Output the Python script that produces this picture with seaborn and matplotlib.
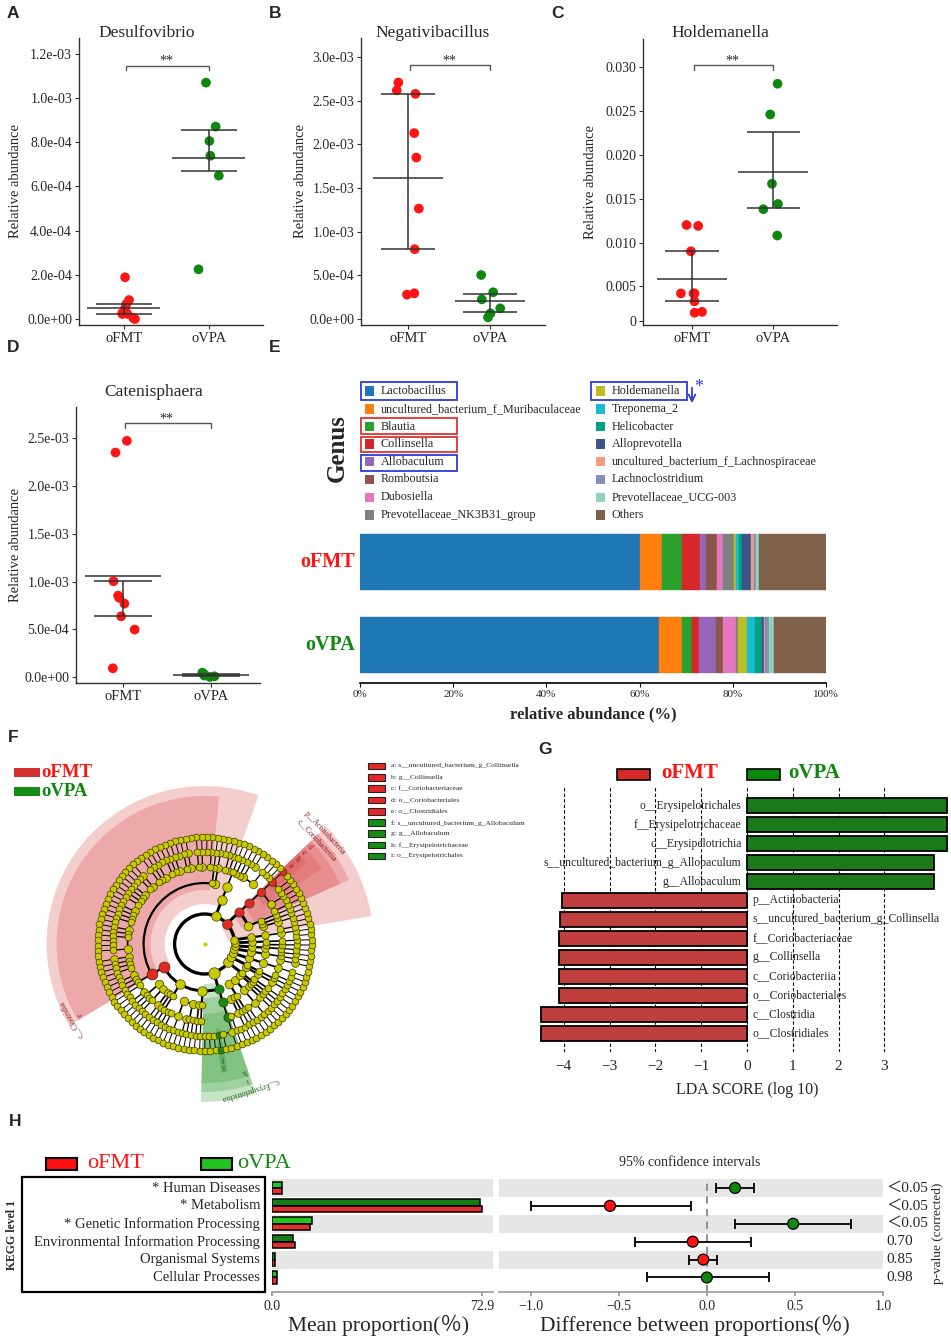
import numpy as np
import pandas as pd
import matplotlib
matplotlib.use("Agg")
import matplotlib.pyplot as plt
import seaborn as sns
from matplotlib.patches import Rectangle, Wedge, Arc

sns.set_theme(style="white")
plt.rcParams["font.family"] = ["Liberation Serif", "Noto Sans CJK SC", "DejaVu Sans"]
plt.rcParams["axes.unicode_minus"] = True
np.random.seed(0)

W, H = 951, 1339
RED, GREEN = "#ff1414", "#0f880f"
DARK = "#333333"

# ---------------- A-D: relative abundance of single genera ----------------
groups = ["oFMT", "oVPA"]
desulfo_fmt = [1.89e-4, 8.6e-5, 6.8e-5, 4.8e-5, 2.6e-5, 2.3e-5, 2.3e-5, 5e-6, 0.0]
desulfo_vpa = [1.070e-3, 8.71e-4, 8.06e-4, 7.39e-4, 6.49e-4, 2.25e-4]
negati_fmt = [2.71e-3, 2.62e-3, 2.58e-3, 2.13e-3, 1.85e-3, 1.265e-3, 8.0e-4, 2.79e-4, 2.94e-4]
negati_vpa = [5.04e-4, 3.06e-4, 2.25e-4, 1.22e-4, 6.5e-5, 1.9e-5]
holde_fmt = [0.0120, 0.0119, 0.0090, 0.0042, 0.0042, 0.0042, 0.0033, 0.0020, 0.0021]
holde_vpa = [0.0281, 0.0246, 0.0167, 0.0144, 0.0138, 0.0108]
cateni_fmt = [2.476e-3, 2.353e-3, 1.004e-3, 8.53e-4, 8.3e-4, 7.69e-4, 6.36e-4, 4.97e-4, 9.1e-5]
cateni_vpa = [2.8e-5, 4.5e-5, 7e-6, 2.4e-5, 0.0, 1.5e-5]

# ---------------- E: genus composition ----------------
genus_names = ["Lactobacillus", "uncultured_bacterium_f_Muribaculaceae", "Blautia", "Collinsella",
               "Allobaculum", "Romboutsia", "Dubosiella", "Prevotellaceae_NK3B31_group",
               "Holdemanella", "Treponema_2", "Helicobacter", "Alloprevotella",
               "uncultured_bacterium_f_Lachnospiraceae", "Lachnoclostridium",
               "Prevotellaceae_UCG-003", "Others"]
genus_colors = ["#1f77b4", "#ff7f0e", "#2ca02c", "#d62728", "#9467bd", "#8c564b", "#e377c2",
                "#7f7f7f", "#bcbd22", "#17becf", "#00a087", "#3c5488", "#f39b7f", "#8491b4",
                "#91d1c2", "#7e6148"]
genus_fmt = [60.1, 4.7, 4.3, 3.8, 1.3, 2.5, 1.1, 2.4, 0.4, 0.7, 0.7, 1.8, 0.8, 0.4, 0.6, 14.4]
genus_vpa = [64.2, 5.0, 2.0, 1.5, 3.6, 1.6, 2.8, 0.5, 1.9, 1.7, 1.5, 0.3, 0.3, 0.9, 1.0, 11.2]

# ---------------- F: LEfSe cladogram ----------------
# phylum -> class -> order -> family -> genus (int = number of species)
clado_tree = [
    [  # Firmicutes
        [  # Clostridia
            [[1], [1], [1, 1]],
            [[1]],
            [  # Clostridiales
                [1], [1, 1], [1], [2], [1], [1, 1], [1], [1], [1, 1], [1], [1], [2], [1],
                [1, 1], [1], [1], [1], [1, 1], [1], [1], [1], [1, 1], [1], [1], [1, 1, 1],
                [2], [1], [1], [1], [1, 1], [1], [1],
            ],
        ],
        [[[1], [1, 1], [1]], [[1], [1]], [[1, 1]], [[1]], [[1]]],          # Bacilli
        [[[1], [1], [1, 1]], [[1, 1], [1]], [[1], [1]], [[1]]],             # Negativicutes
        [[[1, 1, 1, 1, 1, 2]]],                                            # Erysipelotrichia
    ],
    [[[[1], [1, 1]], [[1]], [[1]]], [[[1], [1, 1]]], [[[1, 1]], [[1]]], [[[1]]]],  # Proteobacteria
    [[[[1]], [[1, 1]]], [[[1]]]],                                           # Tenericutes
    [[[[1], [1, 1]]]],                                                      # Spirochaetes
    [[[[2], [1]]]],                                                         # Epsilonbacteraeota
    [[[[1], [1]]]],                                                         # Deferribacteres
    [[[[1]], [[1]]]],                                                       # Cyanobacteria
    [[[[1, 1]]]],                                                           # Verrucomicrobia
    [[[[1], [1, 1]], [[1]], [[1]]], [[[1], [1, 1], [1, 1, 2]]]],            # Actinobacteria
    [[[[1, 1, 1], [2, 1], [1], [1], [1]]]],                                 # Bacteroidetes
]
clado_marks = {
    (8,): ("oFMT", "p__Actinobacteria"),
    (8, 1): ("oFMT", "c__Coriobacteriia"),
    (8, 1, 0): ("oFMT", "d"),
    (8, 1, 0, 2): ("oFMT", "c"),
    (8, 1, 0, 2, 2): ("oFMT", "b"),
    (8, 1, 0, 2, 2, 1): ("oFMT", "a"),
    (0, 0): ("oFMT", "c__Clostridia"),
    (0, 0, 2): ("oFMT", "e"),
    (0, 3): ("oVPA", "c__Erysipelotrichia"),
    (0, 3, 0): ("oVPA", "i"),
    (0, 3, 0, 0): ("oVPA", "h"),
    (0, 3, 0, 0, 3): ("oVPA", "g"),
    (0, 3, 0, 0, 3, 0): ("oVPA", "f"),
}
clado_key = ["a: s__uncultured_bacterium_g_Collinsella", "b: g__Collinsella", "c: f__Coriobacteriaceae",
             "d: o__Coriobacteriales", "e: o__Clostridiales", "f: s__uncultured_bacterium_g_Allobaculum",
             "g: g__Allobaculum", "h: f__Erysipelotrichaceae", "i: o__Erysipelotrichales"]
clado_key_group = ["oFMT"] * 5 + ["oVPA"] * 4

# ---------------- G: LDA scores ----------------
lda_taxa = ["o__Erysipelotrichales", "f__Erysipelotrichaceae", "c__Erysipelotrichia",
            "s__uncultured_bacterium_g_Allobaculum", "g__Allobaculum", "p__Actinobacteria",
            "s__uncultured_bacterium_g_Collinsella", "f__Coriobacteriaceae", "g__Collinsella",
            "c__Coriobacteriia", "o__Coriobacteriales", "c__Clostridia", "o__Clostridiales"]
lda_score = [4.37, 4.37, 4.37, 4.08, 4.08, -4.05, -4.08, -4.10, -4.10, -4.11, -4.11, -4.49, -4.49]
lda_group = ["oVPA"] * 5 + ["oFMT"] * 8

# ---------------- H: KEGG level 1 ----------------
kegg_cats = ["* Human Diseases", "* Metabolism", "* Genetic Information Processing",
             "Environmental Information Processing", "Organismal Systems", "Cellular Processes"]
kegg_fmt = [3.4, 72.9, 13.3, 7.9, 1.0, 1.7]
kegg_vpa = [3.4, 72.3, 13.8, 7.4, 1.0, 1.6]
kegg_diff = [0.16, -0.55, 0.49, -0.08, -0.02, 0.0]
kegg_lo = [0.05, -1.0, 0.16, -0.41, -0.10, -0.34]
kegg_hi = [0.27, -0.09, 0.82, 0.25, 0.06, 0.35]
kegg_p = ["＜0.05", "＜0.05", "＜0.05", "0.70", "0.85", "0.98"]

fig = plt.figure(figsize=(W / 100, H / 100), dpi=100)
fig.patch.set_facecolor("white")


def px_axes(l, t, r, b, **kw):
    return fig.add_axes([l / W, 1 - b / H, (r - l) / W, (b - t) / H], **kw)


ov = fig.add_axes([0, 0, 1, 1], zorder=10)
ov.set_xlim(0, W)
ov.set_ylim(H, 0)
ov.axis("off")
ov.patch.set_alpha(0)

# panel letters
for letter, (x, y) in zip("ABCDEFGH", [(13, 13), (275, 13), (557, 13), (13, 348), (275, 348),
                                        (13, 737), (545, 750), (15, 1122)]):
    ov.text(x, y, letter, fontsize=12.5, fontweight="bold", family="Liberation Sans",
            ha="center", va="center")


def abundance_panel(box, fmt_vals, vpa_vals, xlim, ylim, yticks, ylabels, bracket_y,
                    title, title_x, title_y, ylab_x):
    ax = px_axes(*box)
    df = pd.DataFrame({"group": ["oFMT"] * len(fmt_vals) + ["oVPA"] * len(vpa_vals),
                       "value": list(fmt_vals) + list(vpa_vals)})
    sns.stripplot(data=df, x="group", y="value", hue="group", order=groups,
                  palette={"oFMT": RED, "oVPA": GREEN}, jitter=0.14, size=7,
                  linewidth=0, ax=ax, legend=False, zorder=3)
    for i, vals in enumerate([fmt_vals, vpa_vals]):
        m = np.mean(vals)
        q1, q3 = np.percentile(vals, [25, 75])
        ax.hlines(m, i - 0.43, i + 0.43, color=DARK, lw=1.1, zorder=4)
        ax.hlines([q1, q3], i - 0.33, i + 0.33, color=DARK, lw=1.1, zorder=4)
        ax.vlines(i, q1, q3, color=DARK, lw=1.1, zorder=4)
    ax.set_xlim(*xlim)
    ax.set_ylim(*ylim)
    drop = 4.5 / (box[3] - box[1]) * (ylim[1] - ylim[0])
    ax.plot([0.03, 0.03, 1.0, 1.0], [bracket_y - drop, bracket_y, bracket_y, bracket_y - drop],
            color="#555555", lw=1.0)
    ax.annotate("**", xy=(0.5, bracket_y), xytext=(0, -1.5), textcoords="offset points",
                ha="center", va="bottom", fontsize=10)
    ax.set_yticks(yticks)
    ax.set_yticklabels(ylabels)
    ax.set_xlabel("")
    ax.set_ylabel("")
    for side in ["top", "right"]:
        ax.spines[side].set_visible(False)
    for side in ["left", "bottom"]:
        ax.spines[side].set_color(DARK)
        ax.spines[side].set_linewidth(1.0)
    ax.tick_params(axis="both", length=3, width=0.8, color=DARK, pad=2, left=True, bottom=True)
    ax.tick_params(axis="y", labelsize=10)
    ax.tick_params(axis="x", labelsize=10.5)
    ov.text(title_x, title_y, title, fontsize=12.5, ha="center", va="center")
    ov.text(ylab_x, (box[1] + box[3]) / 2, "Relative abundance", fontsize=10.5,
            rotation=90, ha="center", va="center")
    return ax


def sci_labels(vals):
    return [f"{v:.1e}" for v in vals]


ta = [0, 2e-4, 4e-4, 6e-4, 8e-4, 1e-3, 1.2e-3]
abundance_panel((79, 38, 263, 325), desulfo_fmt, desulfo_vpa, (-0.53, 1.64), (-2.7e-5, 1.272e-3),
                ta, sci_labels(ta), 1.147e-3, "Desulfovibrio", 147, 33, 16)
tb = [0, 5e-4, 1e-3, 1.5e-3, 2e-3, 2.5e-3, 3e-3]
abundance_panel((361, 38, 545, 325), negati_fmt, negati_vpa, (-0.57, 1.67), (-6.9e-5, 3.22e-3),
                tb, sci_labels(tb), 2.905e-3, "Negativibacillus", 433, 33, 300)
tc = [0.0011, 0.005, 0.010, 0.015, 0.020, 0.025, 0.030]
abundance_panel((643, 39, 837, 325), holde_fmt, holde_vpa, (-0.60, 1.78), (0.0006, 0.0332),
                tc, ["0", "0.005", "0.010", "0.015", "0.020", "0.025", "0.030"], 0.0302,
                "Holdemanella", 720, 33, 590)
td = [0, 5e-4, 1e-3, 1.5e-3, 2e-3, 2.5e-3]
abundance_panel((76, 407, 260, 683), cateni_fmt, cateni_vpa, (-0.53, 1.56), (-6.3e-5, 2.83e-3),
                td, sci_labels(td), 2.66e-3, "Catenisphaera", 154, 392, 16)

# ---------------- E ----------------
axE = px_axes(360, 520, 826, 683)
comp = pd.DataFrame({"genus": genus_names, "oFMT": genus_fmt, "oVPA": genus_vpa})
left_f = comp["oFMT"].cumsum() - comp["oFMT"]
left_v = comp["oVPA"].cumsum() - comp["oVPA"]
for k, row in comp.iterrows():
    axE.barh([0, 1], [row["oFMT"], row["oVPA"]], left=[left_f[k], left_v[k]], height=0.675,
             color=genus_colors[k], edgecolor=genus_colors[k], linewidth=0.3)
axE.set_xlim(0, 100)
axE.set_ylim(1.458, -0.506)
axE.set_yticks([])
axE.set_xticks([0, 20, 40, 60, 80, 100])
axE.set_xticklabels([f"{v}%" for v in [0, 20, 40, 60, 80, 100]], fontsize=8)
axE.tick_params(axis="x", length=3, width=0.8, color="black", pad=2, bottom=True)
for side in ["top", "right", "left"]:
    axE.spines[side].set_visible(False)
axE.spines["bottom"].set_color("black")
axE.spines["bottom"].set_linewidth(1.2)
ov.text(355, 562, "oFMT", color=RED, fontsize=14.5, fontweight="bold", ha="right", va="center")
ov.text(355, 645, "oVPA", color=GREEN, fontsize=14.5, fontweight="bold", ha="right", va="center")
ov.text(593, 714, "relative abundance (%)", fontsize=12, fontweight="bold", ha="center", va="center")
ov.text(337, 448, "Genus", fontsize=18, fontweight="bold", rotation=90, ha="center", va="center")
leg_x = [365, 596]
leg_rows = [391, 409, 426.7, 444, 461.7, 479.3, 497.3, 515]
for k, (name, col) in enumerate(zip(genus_names, genus_colors)):
    c, r = divmod(k, 8)
    ov.add_patch(Rectangle((leg_x[c], leg_rows[r] - 4.6), 9.3, 9.3, facecolor=col, edgecolor="none"))
    ov.text(leg_x[c] + 15.5, leg_rows[r], name, fontsize=8.7, ha="left", va="center")
for (x, y, w, h, col) in [(361, 381.7, 95.7, 18.3, "#2b3bd8"), (361, 418.3, 95.7, 16, "#e03030"),
                          (361, 436.7, 95.7, 15.6, "#e03030"), (361, 455, 95.7, 15.7, "#2b3bd8"),
                          (591, 382.3, 95.7, 17.7, "#2b3bd8")]:
    ov.add_patch(Rectangle((x, y), w, h, fill=False, edgecolor=col, lw=1.3))
ov.annotate("", xy=(692, 406), xytext=(692, 385),
            arrowprops=dict(arrowstyle="->", color="#2b3bd8", lw=1.3))
ov.text(699, 387, "*", color="#2b3bd8", fontsize=13, ha="center", va="center")

# ---------------- F: cladogram ----------------
CX, CY = 204.6, 944
axF = px_axes(0, 755, 390, 1115)
axF.set_xlim(-CX, 390 - CX)
axF.set_ylim(CY - 1115, CY - 755)
axF.axis("off")
axF.patch.set_alpha(0)

LEVEL_R = [0, 30, 47, 61, 77, 92, 107]
WEDGE_OUT = [0, 169, 158, 148, 139, 130, 121]
LINK_W = [2.4, 2.1, 1.6, 1.2, 0.9, 0.7]


def count_leaves(node):
    return node if isinstance(node, int) else sum(count_leaves(c) for c in node)


n_leaves = count_leaves(clado_tree)
step = 360.0 / n_leaves
theta0 = 70.0
nodes = {}
links = []
counter = [0]


def place(node, path, level):
    if isinstance(node, int):
        kids = []
        for s in range(node):
            a = theta0 + (counter[0] + 0.5) * step
            counter[0] += 1
            nodes[path + (s,)] = (6, a, 1, a, a)
            kids.append(path + (s,))
    else:
        kids = [place(c, path + (i,), level + 1) for i, c in enumerate(node)]
    angs = [nodes[k][1] for k in kids]
    amin = min(nodes[k][3] for k in kids)
    amax = max(nodes[k][4] for k in kids)
    nodes[path] = (level, angs[-1], sum(nodes[k][2] for k in kids), amin, amax)
    links.append((level, angs[-1], angs))
    return path


place(clado_tree, (), 0)


def polar(r, a):
    return r * np.cos(np.radians(a)), r * np.sin(np.radians(a))


wedge_col = {"oFMT": (0.86, 0.30, 0.30), "oVPA": (0.22, 0.62, 0.22)}
node_col = {"oFMT": "#e32626", "oVPA": "#168c16"}
text_col = {"oFMT": "#8b1a1a", "oVPA": "#1d5e1d"}
for path, (grp, label) in sorted(clado_marks.items(), key=lambda t: len(t[0])):
    level, ang, n, amin, amax = nodes[path]
    r_out = WEDGE_OUT[level]
    r_in = LEVEL_R[level] - 7
    axF.add_patch(Wedge((0, 0), r_out, amin - step / 2, amax + step / 2, width=r_out - r_in,
                        facecolor=wedge_col[grp], alpha=0.28, lw=0, zorder=1))
    lx, ly = polar(r_out - 5, ang)
    axF.text(lx, ly, label, fontsize=5.5, color=text_col[grp],
             rotation=ang - 90, rotation_mode="anchor", ha="center", va="center", zorder=5)

for level, a_par, kid_angs in links:
    r0, r1 = LEVEL_R[level], LEVEL_R[level + 1]
    lw = LINK_W[level]
    x0, y0 = polar(r0, a_par)
    x1, y1 = polar(r1, a_par)
    if level > 0:
        axF.plot([x0, x1], [y0, y1], color="black", lw=lw, solid_capstyle="butt", zorder=2)
    lo, hi = min(kid_angs), max(kid_angs)
    if level == 0:
        lo, hi = 0, 360
    if hi > lo:
        axF.add_patch(Arc((0, 0), 2 * r1, 2 * r1, theta1=lo, theta2=hi, color="black", lw=lw, zorder=2))

for path, (level, ang, n, amin, amax) in sorted(nodes.items(), key=lambda t: -t[1][0]):
    x, y = polar(LEVEL_R[level], ang)
    if level == 0:
        axF.scatter([x], [y], s=4, color="#cccc00", zorder=3)
        continue
    col = node_col[clado_marks[path][0]] if path in clado_marks else "#c9c900"
    axF.scatter([x], [y], s=24 + 10 * np.log(n), color=col, edgecolor="#3a3a00", linewidth=0.5, zorder=3)

ov.add_patch(Rectangle((13.6, 767.5), 26.4, 9.5, facecolor="#d23030", edgecolor="none"))
ov.text(41, 772.5, "oFMT", color=RED, fontsize=13.5, fontweight="bold", ha="left", va="center")
ov.add_patch(Rectangle((13.6, 786.7), 26.4, 9.5, facecolor="#168c16", edgecolor="none"))
ov.text(41, 791.5, "oVPA", color=GREEN, fontsize=13.5, fontweight="bold", ha="left", va="center")
key_rows = [766, 777.3, 788.7, 800, 811.3, 822.7, 833.7, 845, 856]
for txt, grp, y in zip(clado_key, clado_key_group, key_rows):
    ov.add_patch(Rectangle((368, y - 3.3), 16.5, 6.6, facecolor=node_col[grp], edgecolor="#222222", lw=0.8))
    ov.text(391, y, txt, fontsize=5.4, ha="left", va="center")

# ---------------- G: LDA ----------------
axG = px_axes(540, 787, 948.5, 1052)
dfG = pd.DataFrame({"taxon": lda_taxa, "score": lda_score, "group": lda_group})
sns.barplot(data=dfG, x="score", y="taxon", hue="group", dodge=False, width=0.77,
            palette={"oFMT": "#d42a2a", "oVPA": "#0a8a0a"}, edgecolor="black", linewidth=1.3,
            errorbar=None, legend=False, ax=axG, zorder=2)
axG.set_xlim(-4.52, 4.40)
axG.set_ylim(12.99, -0.985)
for v in range(-4, 4):
    axG.axvline(v, color="black", lw=0.8, ls=(0, (3, 2)), zorder=0.5)
for i, (name, sc) in enumerate(zip(lda_taxa, lda_score)):
    if sc > 0:
        axG.text(-0.12, i, name, ha="right", va="center", fontsize=8.4, zorder=0.4)
    else:
        axG.text(0.12, i, name, ha="left", va="center", fontsize=8.4, zorder=0.4)
axG.set_yticks([])
axG.set_xticks(range(-4, 4))
axG.set_xticklabels([f"{v}".replace("-", "\u2212") for v in range(-4, 4)], fontsize=11)
axG.tick_params(axis="x", length=0, pad=6)
axG.set_xlabel("")
axG.set_ylabel("")
for s in axG.spines.values():
    s.set_visible(False)
ov.text(747, 1090, "LDA SCORE (log 10)", fontsize=11.5, ha="center", va="center")
ov.add_patch(Rectangle((617.3, 769), 32.7, 11, facecolor="#d42a2a", edgecolor="black", lw=1.2))
ov.text(661, 772.5, "oFMT", color=RED, fontsize=15, fontweight="bold", ha="left", va="center")
ov.add_patch(Rectangle((747.3, 769), 32.7, 11, facecolor="#0a8a0a", edgecolor="black", lw=1.2))
ov.text(788, 772.5, "oVPA", color=GREEN, fontsize=15, fontweight="bold", ha="left", va="center")

# ---------------- H: KEGG ----------------
rows = np.arange(len(kegg_cats))
axHL = px_axes(272, 1179, 493, 1292)
dfH = pd.DataFrame({"category": kegg_cats * 2, "mean": kegg_vpa + kegg_fmt,
                    "group": ["oVPA"] * 6 + ["oFMT"] * 6})
for i in [0, 2, 4]:
    axHL.axhspan(i - 0.5, i + 0.5, color="#e6e6e6", lw=0, zorder=0)
sns.barplot(data=dfH, x="mean", y="category", hue="group", hue_order=["oVPA", "oFMT"],
            palette={"oVPA": "#22c322", "oFMT": "#ff1010"}, width=0.72, edgecolor="black",
            linewidth=1.1, errorbar=None, legend=False, ax=axHL)
green_shade = ["#22c322", "#137f13", "#22c322", "#137f13", "#137f13", "#22c322"]
for patch, col in zip(axHL.containers[0], green_shade):
    patch.set_facecolor(col)
axHL.set_xlim(0, 76.8)
axHL.set_ylim(5.81, -0.5)
axHL.set_yticks([])
axHL.set_xticks([0, 72.9])
axHL.set_xticklabels(["0.0", "72.9"], fontsize=10)
axHL.tick_params(axis="x", length=3, color="#999999", pad=3, bottom=True)
axHL.set_xlabel("")
axHL.set_ylabel("")
for side in ["top", "right", "left"]:
    axHL.spines[side].set_visible(False)
axHL.spines["bottom"].set_color("#999999")
axHL.spines["bottom"].set_linewidth(1.2)

axHR = px_axes(499, 1179, 883, 1292)
for i in [0, 2, 4]:
    axHR.axhspan(i - 0.5, i + 0.5, color="#e6e6e6", lw=0, zorder=0)
axHR.axvline(0, color="#888888", lw=1.3, ls=(0, (4, 3)), zorder=1)
diff = np.array(kegg_diff)
axHR.errorbar(diff, rows, xerr=[diff - np.array(kegg_lo), np.array(kegg_hi) - diff], fmt="none",
              ecolor="black", elinewidth=1.3, capsize=3.5, capthick=1.3, zorder=2)
sns.scatterplot(x=diff, y=rows, hue=["up" if d >= 0 else "down" for d in diff],
                palette={"up": "#0f880f", "down": "#ff1414"}, s=62, edgecolor="black",
                linewidth=0.9, legend=False, ax=axHR, zorder=3)
axHR.set_xlim(-1.18, 1.0)
axHR.set_ylim(5.81, -0.5)
axHR.set_yticks([])
axHR.set_xticks([-1.0, -0.5, 0.0, 0.5, 1.0])
axHR.set_xticklabels(["\u22121.0", "\u22120.5", "0.0", "0.5", "1.0"], fontsize=10)
axHR.tick_params(axis="x", length=3, color="#999999", pad=3, bottom=True)
axHR.set_xlabel("")
axHR.set_ylabel("")
for side in ["top", "right", "left"]:
    axHR.spines[side].set_visible(False)
axHR.spines["bottom"].set_color("#999999")
axHR.spines["bottom"].set_linewidth(1.2)

row_y = [1188 + 17.9 * i for i in rows]
ov.add_patch(Rectangle((22, 1177), 243, 115, fill=False, edgecolor="black", lw=1.6))
for name, y, p in zip(kegg_cats, row_y, kegg_p):
    ov.text(260, y, name, fontsize=10.5, ha="right", va="center")
    ov.text(886, y, p, fontsize=11, ha="left", va="center")
ov.text(12, 1235, "KEGG level 1", fontsize=8.5, fontweight="bold", rotation=90, ha="center", va="center")
ov.text(938, 1233, "p-value (corrected)", fontsize=9.5, rotation=90, ha="center", va="center")
ov.text(690, 1162, "95% confidence intervals", fontsize=10, ha="center", va="center")
ov.text(379, 1325, "Mean proportion(％)", fontsize=15.5, ha="center", va="center")
ov.text(695, 1325, "Difference between proportions(％)", fontsize=15.5, ha="center", va="center")
ov.add_patch(Rectangle((45.7, 1158.3), 31.6, 11.7, facecolor="#ff1010", edgecolor="black", lw=1.5))
ov.text(87, 1163, "oFMT", color=RED, fontsize=16, ha="left", va="center")
ov.add_patch(Rectangle((201, 1158.3), 30.5, 11.7, facecolor="#22c322", edgecolor="black", lw=1.5))
ov.text(237, 1163, "oVPA", color=GREEN, fontsize=16, ha="left", va="center")

fig.savefig("out.png", dpi=100, facecolor="white")
